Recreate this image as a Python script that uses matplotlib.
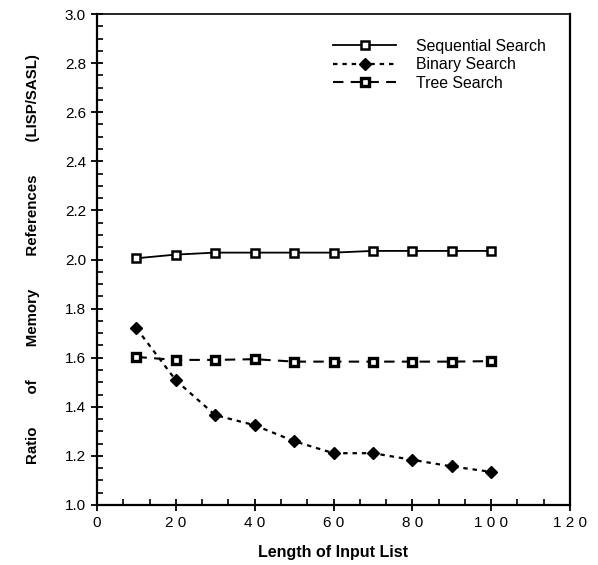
import matplotlib
matplotlib.use("Agg")
import matplotlib.pyplot as plt
from matplotlib.ticker import MultipleLocator, FuncFormatter, FormatStrFormatter

plt.rcParams['font.family'] = ['Liberation Sans', 'DejaVu Sans']

list_length = [10, 20, 30, 40, 50, 60, 70, 80, 90, 100]
sequential = [2.005, 2.02, 2.028, 2.028, 2.028, 2.028, 2.035, 2.035, 2.035, 2.035]
binary = [1.72, 1.508, 1.366, 1.325, 1.26, 1.211, 1.211, 1.184, 1.157, 1.135]
tree = [1.603, 1.591, 1.591, 1.594, 1.584, 1.584, 1.584, 1.584, 1.584, 1.586]
series_labels = ["Sequential Search", "Binary Search", "Tree Search"]

fig = plt.figure(figsize=(5.98, 5.65), dpi=100)
ax = fig.add_axes([97/598, 1-505/565, (570-97)/598, (505-14)/565])

ax.plot(list_length, sequential, color='black', lw=1.3, linestyle='-',
        marker='s', markersize=5.5, markerfacecolor='white', markeredgecolor='black',
        markeredgewidth=1.8, label=series_labels[0])
ax.plot(list_length, binary, color='black', lw=1.6, linestyle=(0, (2, 2.2)),
        marker='D', markersize=6, markerfacecolor='black', markeredgecolor='black',
        label=series_labels[1])
ax.plot(list_length, tree, color='black', lw=1.5, linestyle=(0, (5, 3.5)),
        marker='s', markersize=6, markerfacecolor='white', markeredgecolor='black',
        markeredgewidth=2.4, label=series_labels[2])

ax.set_xlim(0, 120)
ax.set_ylim(1.0, 3.0)
ax.xaxis.set_major_locator(MultipleLocator(20))
ax.xaxis.set_minor_locator(MultipleLocator(20/3))
ax.yaxis.set_major_locator(MultipleLocator(0.2))
ax.yaxis.set_minor_locator(MultipleLocator(0.05))
ax.yaxis.set_major_formatter(FormatStrFormatter('%.1f'))
ax.xaxis.set_major_formatter(FuncFormatter(lambda v, p: " ".join(str(int(round(v))))))

ax.tick_params(which='major', direction='inout', length=8, width=1.3, labelsize=11, pad=4)
ax.tick_params(which='minor', direction='in', length=4, width=1.2)
ax.tick_params(top=False, right=False, which='both')
for s in ax.spines.values():
    s.set_linewidth(1.6)
ax.spines['top'].set_linewidth(1.2)

ax.set_xlabel("Length of Input List", fontsize=11.5, fontweight='bold', labelpad=11)
gap = " " * 8
ax.set_ylabel(gap.join(["Ratio", "of", "Memory", "References", "(LISP/SASL)"]), fontsize=10.8,
              fontweight='bold', labelpad=18)

leg = ax.legend(loc='upper left', bbox_to_anchor=(333/598, 1-39/565),
                bbox_transform=fig.transFigure, frameon=False, borderpad=0, borderaxespad=0,
                fontsize=11.4, handlelength=4.0, numpoints=1, labelspacing=0.22,
                handletextpad=1.25)

fig.savefig("out.png", dpi=100)
